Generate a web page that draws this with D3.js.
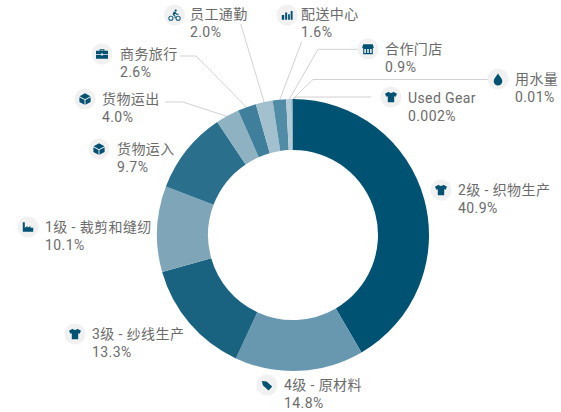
<!DOCTYPE html>
<html>
<head>
<meta charset="utf-8">
<script src="https://cdn.jsdelivr.net/npm/d3@7"></script>
<style>
html, body { margin: 0; padding: 0; background: #fff; }
svg { display: block; }
text { font-family: "Roboto", "Noto Sans CJK SC", sans-serif; fill: #6b6b6b; font-size: 14px; letter-spacing: 0.4px; }
</style>
</head>
<body>
<div id="chart"></div>
<script>
// values, clockwise from 12 o'clock
var categories = ["2级 - 织物生产", "4级 - 原材料", "3级 - 纱线生产", "1级 - 裁剪和缝纫", "货物运入", "货物运出", "商务旅行", "员工通勤", "配送中心", "合作门店", "用水量", "Used Gear"];
var shareLabels = ["40.9%", "14.8%", "13.3%", "10.1%", "9.7%", "4.0%", "2.6%", "2.0%", "1.6%", "0.9%", "0.01%", "0.002%"];
// slice sweeps as measured on the picture, they differ a little from the printed labels
var sliceShares = [41.6, 15.3, 13.7, 10.2, 9.8, 2.8, 2.2, 2.0, 1.6, 0.6, 0.1, 0.1];
var colours = ["#005273", "#6898b0", "#196280", "#7fa5b9", "#2a6f8c", "#8fb2c3", "#3f7f9b", "#a3c0cf", "#518ca6", "#b5ccd8", "#7fa5b9", "#6898b0"];
var iconNames = ["shirt", "tag", "shirt", "factory", "box", "box", "case", "bike", "bars", "store", "drop", "shirt"];

// label layout: icon centre, text x, first line y, optional leader line elbows
var labelLayout = [
	{ ix: 441, iy: 190, tx: 458, ty: 195 },
	{ ix: 267, iy: 385, tx: 284, ty: 390 },
	{ ix: 75, iy: 334, tx: 92, ty: 339 },
	{ ix: 28, iy: 227, tx: 45, ty: 232 },
	{ ix: 99, iy: 149, tx: 117, ty: 154 },
	{ ix: 85, iy: 99, tx: 102, ty: 104, leader: [[165, 102], [183, 102]] },
	{ ix: 102, iy: 54, tx: 120, ty: 59, leader: [[180, 56], [196, 56]] },
	{ ix: 174.5, iy: 15, tx: 190, ty: 19, leader: [[240.7, 24]] },
	{ ix: 287, iy: 15, tx: 301, ty: 19, leader: [[301.7, 41.7]] },
	{ ix: 368, iy: 49, tx: 385, ty: 54, leader: [[358, 49.3], [318, 49.3]] },
	{ ix: 498, iy: 79, tx: 515, ty: 84, leader: [[488, 79.5], [313, 79.5]] },
	{ ix: 391, iy: 97, tx: 408, ty: 103, leader: [[371, 97], [296, 97]] }
];

// icons in a 16x16 box
var iconPaths = {
	shirt: "M5 1.5 L0.5 4 L2.2 7.8 L4 7 L4 14.5 L12 14.5 L12 7 L13.8 7.8 L15.5 4 L11 1.5 C10.4 3.4 5.6 3.4 5 1.5 Z",
	tag: "M1.5 3 L7.5 3.5 L14.5 10 L10 14.8 L3 8.5 Z",
	factory: "M1.5 2 L4 2 L4 9 L7.5 6.8 L7.5 9 L11 6.8 L11 9 L14.5 9 L14.5 14 L1.5 14 Z",
	box: "M8 0.8 L14.8 4.6 L8 8.2 L1.2 4.6 Z M1 5.8 L7.4 9.2 L7.4 15.2 L1 11.6 Z M15 5.8 L8.6 9.2 L8.6 15.2 L15 11.6 Z",
	case: "M5 4 L5 2 L11 2 L11 4 L15.5 4 L15.5 8.2 L9 8.2 L9 7 L7 7 L7 8.2 L0.5 8.2 L0.5 4 Z M6.2 3.2 L6.2 4 L9.8 4 L9.8 3.2 Z M0.5 9.2 L7 9.2 L7 10 L9 10 L9 9.2 L15.5 9.2 L15.5 14 L0.5 14 Z",
	bike: "M9.5 1 A1.4 1.4 0 1 1 9.5 3.8 A1.4 1.4 0 1 1 9.5 1 Z M7 3.5 L9.5 4.5 L11 6.5 L13 6.5 L13 7.6 L10.3 7.6 L9 6.3 L7.6 7.6 L9.2 9 L9.2 12 L8 12 L8 9.6 L5.6 7.6 Z M3.5 8.8 A3.2 3.2 0 1 1 3.5 15.2 A3.2 3.2 0 1 1 3.5 8.8 Z M3.5 10 A2 2 0 1 0 3.5 14 A2 2 0 1 0 3.5 10 Z M12.5 8.8 A3.2 3.2 0 1 1 12.5 15.2 A3.2 3.2 0 1 1 12.5 8.8 Z M12.5 10 A2 2 0 1 0 12.5 14 A2 2 0 1 0 12.5 10 Z",
	bars: "M1.5 8 L4.5 8 L4.5 14 L1.5 14 Z M5.7 5 L8.2 5 L8.2 14 L5.7 14 Z M9.4 7 L11.6 7 L11.6 14 L9.4 14 Z M12.6 3 L15 3 L15 14 L12.6 14 Z",
	store: "M2 2 L14 2 L15.2 6.5 L14 7.5 L14 14.5 L2 14.5 L2 7.5 L0.8 6.5 Z M3.4 8 L3.4 13 L5.4 13 L5.4 8 Z M7 8 L7 13 L9 13 L9 8 Z M10.6 8 L10.6 13 L12.6 13 L12.6 8 Z",
	drop: "M8 1 C10 4.8 13.4 7.4 13.4 10.6 A5.4 5.4 0 0 1 2.6 10.6 C2.6 7.4 6 4.8 8 1 Z"
};

var width = 561, height = 412;
var centre = { x: 293, y: 235 };
var outerRadius = 136, innerRadius = 85;
var iconScale = 0.8;

var svg = d3.select("#chart").append("svg")
	.attr("width", width)
	.attr("height", height);

var pie = d3.pie().sort(null).value(function(d){ return d; });
var arcs = pie(sliceShares);
var arc = d3.arc().innerRadius(innerRadius).outerRadius(outerRadius);
var lineGen = d3.line();

//****************************************************************************************************************************//
// Leader lines

var leaderGroup = svg.append("g");
arcs.forEach(function(a, i){
	var layout = labelLayout[i];
	if(!layout.leader) return;
	var mid = (a.startAngle + a.endAngle) / 2;
	var end = [centre.x + Math.sin(mid) * (outerRadius - 1), centre.y - Math.cos(mid) * (outerRadius - 1)];
	leaderGroup.append("path")
		.attr("d", lineGen(layout.leader.concat([end])))
		.attr("fill", "none")
		.attr("stroke", "#d2d2d2")
		.attr("stroke-width", 1);
});

//****************************************************************************************************************************//
// Donut

svg.append("g")
	.attr("transform", "translate(" + centre.x + "," + centre.y + ")")
	.selectAll("path")
	.data(arcs)
	.join("path")
	.attr("d", arc)
	.attr("fill", function(d, i){ return colours[i]; });

//****************************************************************************************************************************//
// Labels

var labels = svg.append("g").selectAll("g")
	.data(categories)
	.join("g");

labels.append("circle")
	.attr("cx", function(d, i){ return labelLayout[i].ix; })
	.attr("cy", function(d, i){ return labelLayout[i].iy; })
	.attr("r", 10.5)
	.attr("fill", "#f1f1f1");

labels.append("path")
	.attr("transform", function(d, i){
		var offset = 8 * iconScale;
		return "translate(" + (labelLayout[i].ix - offset) + "," + (labelLayout[i].iy - offset) + ") scale(" + iconScale + ")";
	})
	.attr("d", function(d, i){ return iconPaths[iconNames[i]]; })
	.attr("fill", "#005273")
	.attr("fill-rule", "evenodd");

labels.append("text")
	.attr("x", function(d, i){ return labelLayout[i].tx; })
	.attr("y", function(d, i){ return labelLayout[i].ty; })
	.text(function(d){ return d; });

labels.append("text")
	.attr("x", function(d, i){ return labelLayout[i].tx; })
	.attr("y", function(d, i){ return labelLayout[i].ty + 18; })
	.text(function(d, i){ return shareLabels[i]; });
</script>
</body>
</html>
